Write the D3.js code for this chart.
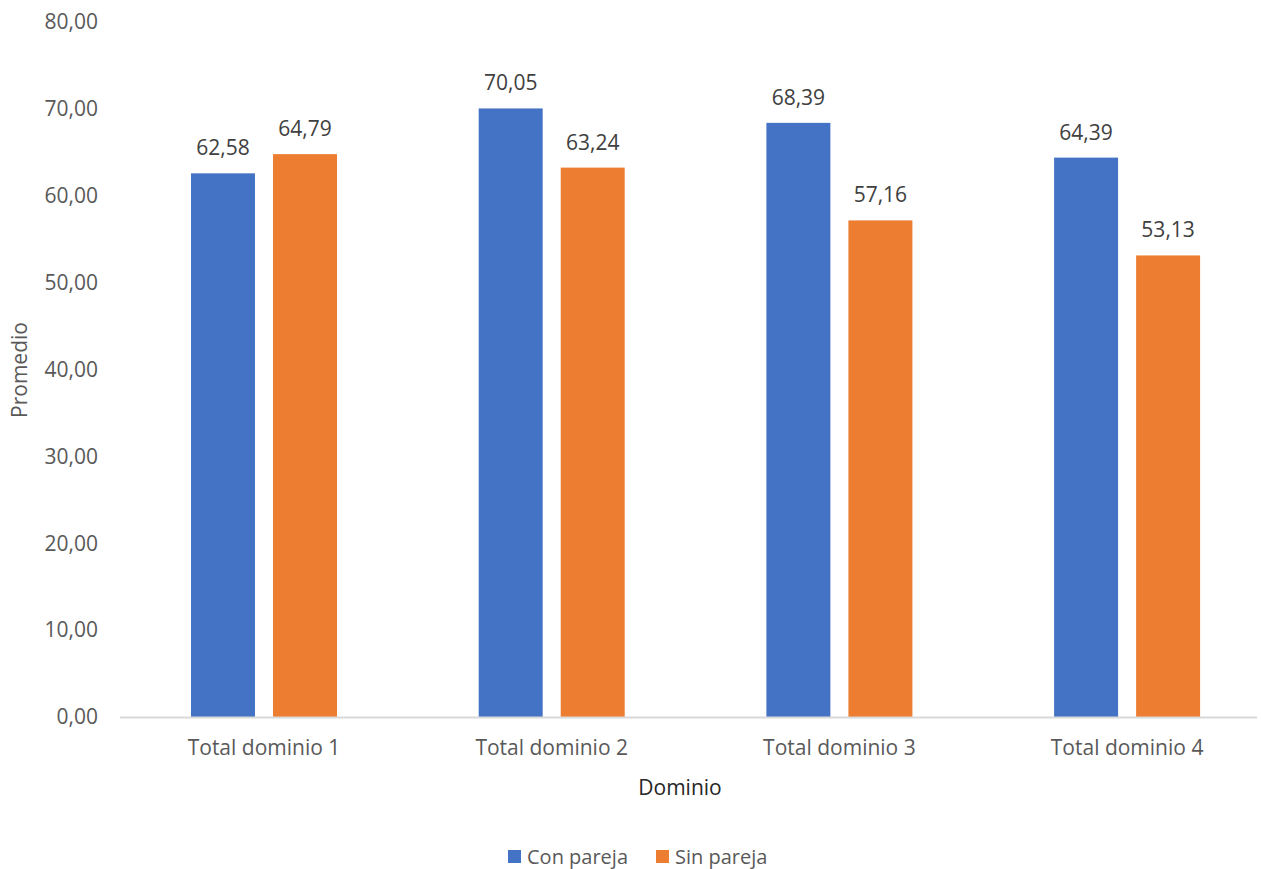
<!DOCTYPE html>
<html>
<head>
<meta charset="utf-8">
<script src="https://cdn.jsdelivr.net/npm/d3@7"></script>
<style>
  body { margin: 0; background: #fff; }
  svg text { font-family: "Open Sans", "Noto Sans", sans-serif; }
</style>
</head>
<body>
<div id="chart"></div>
<script>
// grouped bars: Promedio by Dominio
var categories = ["Total dominio 1", "Total dominio 2", "Total dominio 3", "Total dominio 4"];
var seriesNames = ["Con pareja", "Sin pareja"];
var conPareja = [62.58, 70.05, 68.39, 64.39];
var sinPareja = [64.79, 63.24, 57.16, 53.13];
var yTicks = [0, 10, 20, 30, 40, 50, 60, 70, 80];
var colours = ["#4472c4", "#ed7d31"];

var width = 1261,
    height = 869;
var margin = {top: 22, right: 4, bottom: 152, left: 120};

var svg = d3.select("#chart").append("svg")
    .attr("width", width)
    .attr("height", height);

// category slots are ~288px apart
var x0 = d3.scaleBand()
    .domain(categories)
    .range([margin.left, margin.left + 4 * 287.7]);

var x1 = d3.scaleBand()
    .domain(seriesNames)
    .range([71, 217])
    .paddingInner(0.22);

var y = d3.scaleLinear()
    .domain([0, 80])
    .range([height - margin.bottom, margin.top]);

var fmt = function(v) { return d3.format(".2f")(v).replace(".", ","); };

// y tick labels (no gridlines)
svg.append("g")
    .selectAll("text")
    .data(yTicks)
    .enter().append("text")
    .attr("x", 98)
    .attr("y", function(d) { return y(d); })
    .attr("dy", "0.35em")
    .attr("text-anchor", "end")
    .attr("font-size", 21)
    .attr("fill", "#595959")
    .text(fmt);

var rows = categories.map(function(c, i) {
    return {cat: c, vals: [conPareja[i], sinPareja[i]]};
});

var groups = svg.append("g")
    .selectAll("g")
    .data(rows)
    .enter().append("g")
    .attr("transform", function(d) { return "translate(" + x0(d.cat) + ",0)"; });

groups.selectAll("rect")
    .data(function(d) { return d.vals.map(function(v, j) { return {s: seriesNames[j], v: v, j: j}; }); })
    .enter().append("rect")
    .attr("x", function(d) { return x1(d.s); })
    .attr("width", x1.bandwidth())
    .attr("y", function(d) { return y(d.v); })
    .attr("height", function(d) { return y(0) - y(d.v); })
    .attr("fill", function(d) { return colours[d.j]; });

groups.selectAll("text")
    .data(function(d) { return d.vals.map(function(v, j) { return {s: seriesNames[j], v: v}; }); })
    .enter().append("text")
    .attr("x", function(d) { return x1(d.s) + x1.bandwidth() / 2; })
    .attr("y", function(d) { return y(d.v) - 18; })
    .attr("text-anchor", "middle")
    .attr("font-size", 21)
    .attr("fill", "#404040")
    .text(function(d) { return fmt(d.v); });

// x axis line + category labels
svg.append("line")
    .attr("x1", margin.left)
    .attr("x2", width - margin.right)
    .attr("y1", y(0) + 0.5)
    .attr("y2", y(0) + 0.5)
    .attr("stroke", "#d9d9d9")
    .attr("stroke-width", 2);

svg.append("g")
    .selectAll("text")
    .data(categories)
    .enter().append("text")
    .attr("x", function(d) { return x0(d) + 144; })
    .attr("y", 755)
    .attr("text-anchor", "middle")
    .attr("font-size", 21)
    .attr("fill", "#595959")
    .text(function(d) { return d; });

// axis titles
svg.append("text")
    .attr("x", 680)
    .attr("y", 795)
    .attr("text-anchor", "middle")
    .attr("font-size", 21)
    .attr("fill", "#262626")
    .text("Dominio");

svg.append("text")
    .attr("transform", "translate(27,370) rotate(-90)")
    .attr("text-anchor", "middle")
    .attr("font-size", 21)
    .attr("fill", "#595959")
    .text("Promedio");

// legend
var legendX = [508, 656];
var legend = svg.append("g")
    .selectAll("g")
    .data(seriesNames)
    .enter().append("g")
    .attr("transform", function(d, i) { return "translate(" + legendX[i] + ",850)"; });

legend.append("rect")
    .attr("width", 13)
    .attr("height", 13)
    .attr("fill", function(d, i) { return colours[i]; });

legend.append("text")
    .attr("x", 19)
    .attr("y", 7)
    .attr("dy", "0.35em")
    .attr("font-size", 20)
    .attr("fill", "#595959")
    .text(function(d) { return d; });
</script>
</body>
</html>
